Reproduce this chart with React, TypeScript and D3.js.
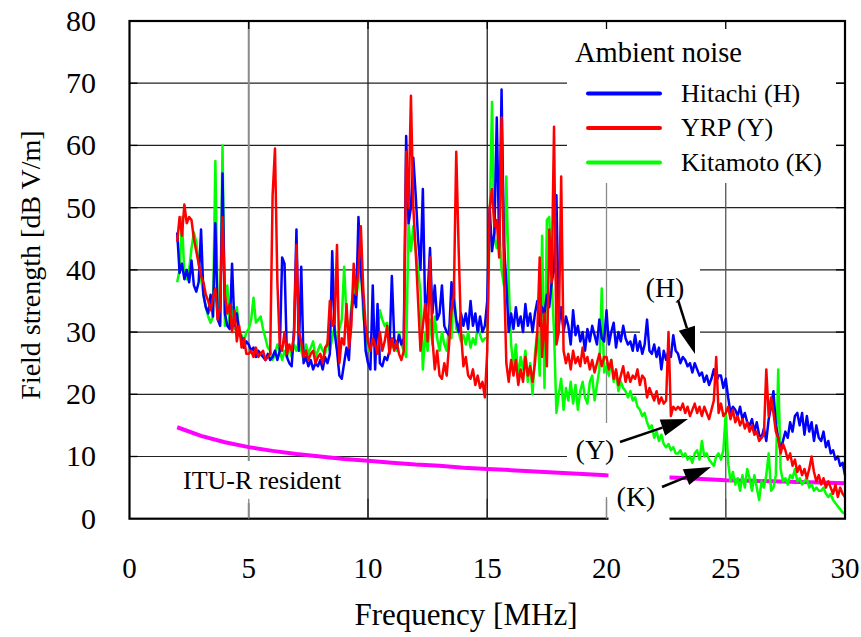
import * as d3 from "d3";

// sampling grid of the measured spectra: 2.0 .. 30.0 MHz every 0.1 MHz
const START_MHZ = 2;
const STEP_MHZ = 0.1;

// Hitachi (H) [dBuV/m], one row per MHz
const hitachi = [
  46, 39.5, 41, 38.5, 40, 38, 41.5, 37.5, 36.5, 38,
  46.5, 36, 34, 33, 36, 32.5, 47.5, 32, 31, 55.5,
  33, 31, 30.5, 41, 31, 33, 30, 29, 27.5, 28.5,
  28, 27, 27.5, 26, 27, 26.5, 26, 25.5, 26.5, 25.5,
  26, 27, 25.5, 27, 42, 41, 26, 25, 24.5, 30.5,
  46.5, 27, 40.5, 25, 26, 24.5, 25.5, 24, 25, 24.5,
  25.5, 24, 26, 25, 26.5, 43, 30, 27, 23, 22.5,
  25, 27.5, 25.5, 33, 36, 34, 48.5, 40, 35, 27,
  25, 24, 37.5, 24, 34.5, 25, 24.5, 26, 25.5, 27,
  39, 29, 27.5, 29.5, 28, 29, 61.5, 47.5, 50, 58,
  52, 45, 40, 53, 33, 36, 43.5, 33, 37.5, 32,
  33, 37.5, 31, 30, 29.5, 38, 35, 32, 30, 33,
  31, 33, 30.5, 35, 31, 33, 30, 32.5, 30, 31,
  35, 50, 43, 46, 64.5, 44, 69, 44, 38, 30,
  33, 30.5, 34, 31, 32.5, 30, 34.5, 31, 33, 30,
  33, 35, 31, 34, 33, 36, 34, 38, 40, 52,
  31, 34, 30, 32.5, 31, 28, 33.5, 29.5, 31, 28.5,
  30, 27, 30.5, 28.5, 31, 29.5, 28, 32, 29, 28.5,
  33.5, 28, 30, 31.5, 27.5, 30, 28.5, 31, 29, 28,
  28.5, 27, 29.5, 27, 28.5, 26.5, 28, 32, 27, 26.5,
  28, 26, 27.5, 24, 27, 25.5, 27, 26, 29.5, 27,
  26.5, 25, 26, 25.5, 24.5, 25, 23.5, 25, 24, 23,
  23.5, 22, 23, 21.5, 22.5, 24, 22, 23, 23, 21,
  22.5, 19.5, 17, 18, 17.5, 16.5, 18, 16, 17, 15.5,
  15, 16, 14, 15.5, 13.5, 13, 14.5, 12.5, 16, 18,
  20.5, 15, 13, 11, 12.5, 14, 13, 15.5, 14, 16.5,
  17, 15, 17, 13.5, 16.5, 14, 15.5, 12.5, 15, 13,
  12.5, 14, 11.5, 12.5, 10.5, 11, 9.5, 10, 8.5, 9,
  7,
];

// YRP (Y)
const yrp = [
  44.5, 48.5, 45.5, 50.5, 47.5, 48.5, 48, 45, 43, 41,
  39, 38, 36, 35, 33.5, 35.5, 37, 32, 34, 48.5,
  36, 33, 34.5, 30, 33.5, 28.5, 31, 27.5, 29, 26.5,
  26.5, 27, 26, 27.5, 26, 26.5, 27, 25.5, 26, 26.5,
  52, 59.5, 38, 28, 27, 30, 26.5, 28, 27, 29.5,
  44, 30, 28.5, 26, 27, 25.5, 26.5, 27, 25, 26,
  26.5, 25, 27.5, 28, 35, 31, 31.5, 44, 25, 29,
  28, 34.5, 27.5, 31, 41, 36, 40, 47, 37, 31,
  28.5, 27, 29, 28, 26.5, 30, 27, 28.5, 31, 26.5,
  29, 27, 28.5, 26.5, 25.5, 27, 59, 50, 68, 50,
  43, 35, 27, 31, 34.5, 28.5, 42, 29, 24, 27,
  23, 22.5, 25, 23, 28, 33.5, 36, 59, 43.5, 30,
  24.5, 26, 23, 22.5, 24, 21.5, 23, 21, 22, 19.5,
  27, 50, 53, 47, 48, 42, 64.5, 40, 25, 22,
  25.5, 23, 25.5, 21.5, 24, 22, 26, 23, 24.5, 22,
  25, 30, 42, 26, 33, 24.5, 46.5, 38, 63, 28,
  30, 55, 27, 25, 26.5, 24, 27, 25, 26, 24.5,
  27.5, 25, 26, 24, 25.5, 23.5, 25, 26.5, 24.5, 26,
  26, 24, 25.5, 22.5, 24, 21.5, 23, 24.5, 22, 23.5,
  22, 23, 22.5, 24, 21.5, 23, 22.5, 19.5, 21, 20,
  19, 20.5, 18.5, 19.5, 18.5, 19, 30, 16.5, 18, 17.5,
  18, 17.5, 18.5, 17, 18, 16.5, 17.5, 18.5, 17, 18,
  16.5, 18, 17, 16, 17.5, 19, 26, 17, 18.5, 16.5,
  17, 18, 16, 17.5, 15.5, 16.5, 15, 16, 14.5, 15.5,
  14, 15, 13.5, 14, 12.5, 13, 13.5, 24, 16.5, 19.5,
  17, 14, 13, 10.5, 12, 11, 9.5, 10.5, 8.5, 9.5,
  7.5, 8.5, 7, 8, 6.5, 8, 10, 7.5, 6, 7,
  5.5, 6.5, 5, 6, 5, 4, 5.5, 3.5, 5, 4,
  3.5,
];

// Kitamoto (K)
const kitamoto = [
  38, 40, 48.5, 39, 38.5, 40, 43.5, 46, 44.5, 41,
  38.5, 36, 34, 32.5, 31.5, 32.5, 57.5, 33, 31.5, 60,
  31, 37.5, 31, 34, 30.5, 34, 30, 29.5, 28.5, 30,
  30.5, 32, 35.5, 31.5, 32, 32.5, 30.5, 29, 27.5, 27,
  25.5, 26.5, 28, 27, 25.5, 27, 26, 27.5, 26, 28,
  27, 28.5, 27, 25.5, 28, 26.5, 27.5, 28.5, 26, 27,
  28, 27, 26.5, 28.5, 27, 29, 31, 27.5, 30.5, 32,
  40.5, 32.5, 30, 34, 37.5, 35.5, 38, 41, 33, 29.5,
  27, 29, 28, 29.5, 30, 33.5, 32, 31, 31.5, 29,
  27.5, 28.5, 27, 30, 28, 27, 26, 47.5, 43, 47,
  43, 40, 36.5, 24, 30, 27, 32, 28, 32.5, 29,
  27, 30, 28, 27, 31, 29, 38, 30.5, 30, 28.5,
  29.5, 28, 30, 27.5, 29, 28, 31, 29.5, 28.5, 29,
  29, 47, 67, 45, 43.5, 47, 40, 37.5, 55, 38,
  28, 24.5, 28, 22.5, 26, 24, 27, 22, 25, 20,
  26.5, 30, 23, 45.5, 21, 48, 48.5, 38, 30, 17,
  20, 22.5, 17.5, 21, 19, 22, 18.5, 21.5, 17.5, 20.5,
  22, 19.5, 18.5, 22, 23, 19, 21.5, 24, 37, 23.5,
  24.5, 23, 25.5, 22, 23.5, 20.5, 22, 21, 20.5, 19.5,
  20.5, 19, 19.5, 18, 17.5, 16.5, 17, 15.5, 14.5, 15,
  13, 14, 12.5, 13.5, 12, 11.5, 12, 11, 11.5, 10.5,
  10.5, 11, 10, 10.5, 9.5, 10, 9, 10.5, 11, 9.5,
  12.5, 10, 10.5, 9.5, 9, 8.5, 10, 10.5, 9.5, 11,
  17, 9, 6, 7.5, 5.5, 6.5, 4.5, 7, 5, 8,
  6.5, 4.5, 7, 5, 3, 6, 5, 7, 10.5, 4.5,
  5, 7, 24, 8, 6, 6.5, 5.5, 7, 6.5, 8,
  6, 6.5, 5.5, 6, 6.5, 5, 5.5, 4.5, 5, 4.5,
  4.5, 5, 4, 3.5, 4, 3, 2.5, 2, 1.5, 1,
  0.8,
];

// ITU-R residential noise
const ituFreq = [2, 3, 4, 5, 6, 7, 8, 9, 10, 11, 12, 13, 14, 15, 16, 17, 18, 19, 20, 21, 22, 23, 24, 25, 26, 27, 28, 29, 30];
const ituResident = [14.7, 13.3, 12.3, 11.5, 10.9, 10.4, 10.0, 9.6, 9.3, 9.0, 8.7, 8.5, 8.2, 8.0, 7.8, 7.6, 7.4, 7.2, 7.0, 6.9, 6.7, 6.6, 6.4, 6.2, 6.1, 6.0, 5.9, 5.8, 5.7];

const xTicks = [0, 5, 10, 15, 20, 25, 30];
const yTicks = [0, 10, 20, 30, 40, 50, 60, 70, 80];

const series = [
  { name: "Kitamoto (K)", color: "#00ff00", values: kitamoto },
  { name: "Hitachi (H)", color: "#0000ff", values: hitachi },
  { name: "YRP (Y)", color: "#ff0000", values: yrp },
];
const legendOrder = ["Hitachi (H)", "YRP (Y)", "Kitamoto (K)"];

const W = 861;
const H = 637;
const serif = { fontFamily: '"Liberation Serif"' };

const x = d3.scaleLinear().domain([0, 30]).range([129.5, 845]);
const y = d3.scaleLinear().domain([0, 80]).range([518.7, 21]);

const gridColor = (t: number) => (t === 5 || t === 20 ? "#8a8a8a" : t === 25 ? "#555" : "#222");

function Arrow({ x1, y1, x2, y2 }: { x1: number; y1: number; x2: number; y2: number }) {
  const a = Math.atan2(y2 - y1, x2 - x1);
  const len = 27, hw = 8.5;
  const bx = x2 - len * Math.cos(a), by = y2 - len * Math.sin(a);
  const px = -Math.sin(a) * hw, py = Math.cos(a) * hw;
  return (
    <g>
      <line x1={x1} y1={y1} x2={bx} y2={by} stroke="#000" strokeWidth={2.5} />
      <polygon points={`${x2},${y2} ${bx + px},${by + py} ${bx - px},${by - py}`} fill="#000" />
    </g>
  );
}

export default function App() {
  const line = d3
    .line<number>()
    .x((_, i) => x(START_MHZ + i * STEP_MHZ))
    .y((d) => y(d));
  const ituLine = d3
    .line<number>()
    .x((_, i) => x(ituFreq[i]))
    .y((d) => y(d));
  const [x0, x1] = x.range();
  const [y0, y1] = y.range();

  return (
    <svg width={W} height={H} style={{ position: "absolute", left: 0, top: 0, background: "#fff" }}>
      {/* grid */}
      {yTicks.slice(1, -1).map((t) => (
        <line key={"gy" + t} x1={x0} x2={x1} y1={y(t)} y2={y(t)} stroke="#222" strokeWidth={1.2} />
      ))}
      {xTicks.slice(1, -1).map((t) => (
        <line key={"gx" + t} x1={x(t)} x2={x(t)} y1={y1} y2={y0} stroke={gridColor(t)} strokeWidth={t === 5 ? 2 : 1.3} />
      ))}

      {/* white panels behind legend and notes */}
      <rect x={567} y={22} width={269} height={161} fill="#fff" />
      <rect x={176} y={461} width={176} height={42} fill="#fff" />
      <rect x={640} y={265} width={60} height={73} fill="#fff" />
      <rect x={567} y={423} width={61} height={74} fill="#fff" />

      <path d={ituLine(ituResident) ?? ""} fill="none" stroke="#ff00ff" strokeWidth={4} />

      {series.map((s) => (
        <path key={s.name} d={line(s.values) ?? ""} fill="none" stroke={s.color} strokeWidth={2.5} strokeLinejoin="round" />
      ))}

      {/* frame and inward ticks */}
      <rect x={x0} y={y1} width={x1 - x0} height={y0 - y1} fill="none" stroke="#000" strokeWidth={2.2} />
      {xTicks.slice(1, -1).map((t) => (
        <g key={"tx" + t}>
          <line x1={x(t)} x2={x(t)} y1={y1} y2={y1 + 8} stroke="#000" strokeWidth={1.3} />
          <line x1={x(t)} x2={x(t)} y1={y0} y2={y0 - 20} stroke={gridColor(t)} strokeWidth={1.3} />
        </g>
      ))}
      {yTicks.slice(1, -1).map((t) => (
        <g key={"ty" + t}>
          <line x1={x0} x2={x0 + 8} y1={y(t)} y2={y(t)} stroke="#000" strokeWidth={1.3} />
          <line x1={x1} x2={x1 - 9} y1={y(t)} y2={y(t)} stroke="#000" strokeWidth={1.3} />
        </g>
      ))}

      {/* label panel that sits over the axis */}
      <rect x={608.5} y={470} width={61} height={60} fill="#fff" />

      {/* tick labels */}
      {yTicks.map((t) => (
        <text key={"ly" + t} x={96} y={y(t) + 10} textAnchor="end" fontSize={30} style={serif}>
          {t}
        </text>
      ))}
      {xTicks.map((t) => (
        <text key={"lx" + t} x={x(t)} y={578} textAnchor="middle" fontSize={29} style={serif}>
          {t}
        </text>
      ))}

      <text x={466} y={625} textAnchor="middle" fontSize={31} style={serif}>
        Frequency [MHz]
      </text>
      <text transform="translate(40,265) rotate(-90)" textAnchor="middle" fontSize={28} style={serif}>
        Field strength [dB V/m]
      </text>

      {/* legend */}
      <text x={575} y={61.5} fontSize={28.5} style={serif}>
        Ambient noise
      </text>
      {legendOrder.map((name, i) => {
        const s = series.find((d) => d.name === name)!;
        const ly = 93.5 + i * 34.5;
        return (
          <g key={name}>
            <line x1={588} x2={660} y1={ly} y2={ly} stroke={s.color} strokeWidth={4} strokeLinecap="round" />
            <text x={681} y={ly + 8} fontSize={26} style={serif}>
              {name}
            </text>
          </g>
        );
      })}

      <text x={183} y={489} fontSize={26} style={serif}>
        ITU-R resident
      </text>

      {/* annotations */}
      <text x={665} y={297} textAnchor="middle" fontSize={28} style={serif}>
        (H)
      </text>
      <Arrow x1={678} y1={300} x2={695} y2={354} />
      <text x={595} y={459} textAnchor="middle" fontSize={28} style={serif}>
        (Y)
      </text>
      <Arrow x1={620} y1={442} x2={688} y2={419} />
      <text x={636} y={506} textAnchor="middle" fontSize={28} style={serif}>
        (K)
      </text>
      <Arrow x1={662} y1={487} x2={711} y2={467} />
    </svg>
  );
}
